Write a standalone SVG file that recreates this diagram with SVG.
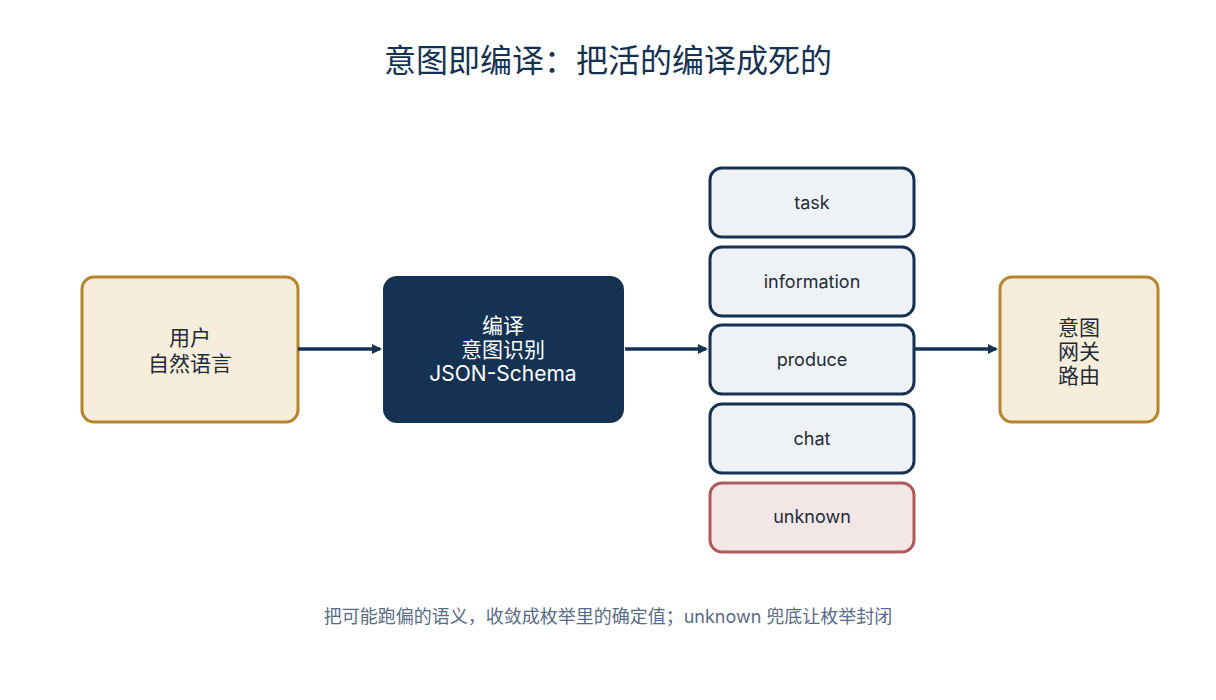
<svg xmlns="http://www.w3.org/2000/svg" width="1216" height="700" viewBox="0 0 1216 700">
<style>
text{font-family:Inter,"Noto Sans CJK SC",sans-serif;text-anchor:middle}
.warm{fill:#f7eddb;stroke:#b5862e;stroke-width:3}
.enum{fill:#eef2f7;stroke:#163252;stroke-width:3}
.unk{fill:#f3e6e6;stroke:#b05a5a;stroke-width:3}
.t{font-size:21px;fill:#1e2a38}
.e{font-size:18px;fill:#1e2a38}
.c{stroke:#163252;stroke-width:3.5;fill:none;marker-end:url(#ah)}
</style>
<defs><marker id="ah" markerWidth="10" markerHeight="10" refX="8" refY="5" orient="auto" markerUnits="userSpaceOnUse" viewBox="0 0 10 10"><path d="M0,0 L10,5 L0,10 z" fill="#163252"/></marker></defs>
<rect width="1216" height="700" fill="#fff"/>
<text x="608" y="72" style="font-size:32px;fill:#163252">意图即编译：把活的编译成死的</text>
<g id="user"><rect class="warm" x="82" y="277" width="216" height="145" rx="12"/><text class="t" x="190" y="345">用户</text><text class="t" x="190" y="371">自然语言</text></g>
<g id="compile"><rect x="383" y="276" width="241" height="147" rx="14" fill="#163252"/><text class="t" x="503" y="333" style="fill:#fff">编译</text><text class="t" x="503" y="357" style="fill:#fff">意图识别</text><text class="t" x="503" y="381" style="fill:#fff">JSON-Schema</text></g>
<g id="task"><rect class="enum" x="710" y="168" width="204" height="69" rx="12"/><text class="e" x="812" y="209">task</text></g>
<g id="information"><rect class="enum" x="710" y="247" width="204" height="69" rx="12"/><text class="e" x="812" y="288">information</text></g>
<g id="produce"><rect class="enum" x="710" y="325" width="204" height="69" rx="12"/><text class="e" x="812" y="366">produce</text></g>
<g id="chat"><rect class="enum" x="710" y="404" width="204" height="69" rx="12"/><text class="e" x="812" y="445">chat</text></g>
<g id="unknown"><rect class="unk" x="710" y="483" width="204" height="69" rx="12"/><text class="e" x="812" y="523">unknown</text></g>
<g id="gateway"><rect class="warm" x="1000" y="277" width="158" height="145" rx="12"/><text class="t" x="1079" y="335">意图</text><text class="t" x="1079" y="359">网关</text><text class="t" x="1079" y="383">路由</text></g>
<g id="connectors"><line class="c" x1="298" y1="349" x2="380" y2="349"/><line class="c" x1="625" y1="349" x2="706" y2="349"/><line class="c" x1="915" y1="349" x2="996" y2="349"/></g>
<text x="608" y="623" style="font-size:18px;fill:#5a6b85">把可能跑偏的语义，收敛成枚举里的确定值；unknown 兜底让枚举封闭</text>
</svg>
